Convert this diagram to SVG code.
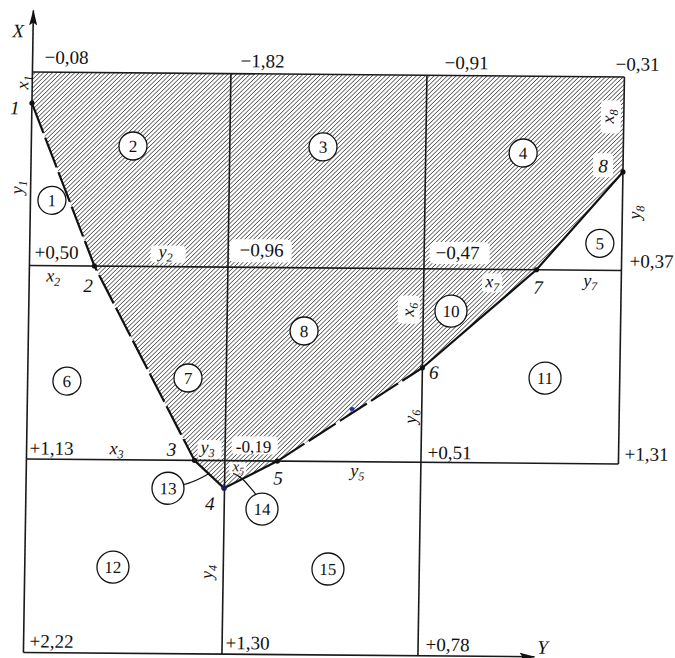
<svg xmlns="http://www.w3.org/2000/svg" width="675" height="658" viewBox="0 0 675 658">
<style>
.g{stroke:#1a1a1a;stroke-width:1.6;fill:none}
.b{stroke:#111;stroke-width:2.2;fill:none}
.d{stroke-dasharray:32 5}
text{font-family:"Liberation Serif","DejaVu Serif","Noto Serif",serif;fill:#111}
.n{font-size:19px;text-anchor:middle}
.i{font-style:italic;font-size:19px;text-anchor:middle}
.v{font-style:italic;font-size:18px;text-anchor:middle}
.s{font-size:12px}
.c circle{fill:#fff;stroke:#111;stroke-width:1.3}
.c text{font-size:17px;text-anchor:middle}
.w{fill:#fff}
.p{fill:#111}
.l{stroke:#111;stroke-width:1.2;fill:none}
</style>
<defs>
<pattern id="h" patternUnits="userSpaceOnUse" width="3.1" height="10" patternTransform="rotate(45)">
<line x1="0" y1="0" x2="0" y2="10" stroke="#1a1a1a" stroke-width="1.2"/>
</pattern>
<marker id="ar" viewBox="0 0 16 8" refX="15" refY="4" markerWidth="16" markerHeight="8" markerUnits="userSpaceOnUse" orient="auto">
<path d="M0,0 L16,4 L0,8 L3,4 z" fill="#111"/>
</marker>
</defs>
<rect width="675" height="658" fill="#fff"/>
<g transform="matrix(1 0.0085 -0.0155 1 5.58 -2.8)">
<g id="feasible-region">
<polygon points="28,74.5 620,74.5 620,169.5 535,268 422.5,367 279,461.5 226,489 196,461.5 93,268 28,105.7" fill="url(#h)"/>
<rect class="w" x="149" y="247" width="35" height="17" rx="4"/>
<rect class="w" x="228" y="240" width="62" height="23" rx="5"/>
<rect class="w" x="428" y="241" width="60" height="22" rx="5"/>
<rect class="w" x="397" y="295" width="22" height="28" rx="4"/>
<rect class="w" x="597" y="98" width="20" height="33" rx="4"/>
<rect class="w" x="590" y="151" width="20" height="24" rx="4"/>
<rect class="w" x="233" y="437" width="46" height="18" rx="4"/>
<rect class="w" x="199" y="441" width="24" height="19" rx="4"/>
<rect class="w" x="481" y="272" width="20" height="19" rx="4"/>
<rect class="w" x="231" y="463" width="17" height="12" rx="3"/>
</g>
<g id="grid">
<line class="g" x1="28" y1="74.5" x2="620" y2="74.5"/>
<line class="g" x1="28" y1="268" x2="620" y2="268"/>
<line class="g" x1="28" y1="461.5" x2="620" y2="461.5"/>
<line class="g" x1="226.5" y1="74.5" x2="226.5" y2="655"/>
<line class="g" x1="422.5" y1="74.5" x2="422.5" y2="655"/>
<line class="g" x1="620" y1="74.5" x2="620" y2="461.5"/>
</g>
<g id="axes">
<line class="g" x1="28" y1="655" x2="28" y2="13" marker-end="url(#ar)"/>
<line class="g" x1="28" y1="655" x2="539" y2="655" marker-end="url(#ar)"/>
<text class="i" x="13" y="40">X</text>
<text class="i" x="547" y="652">Y</text>
</g>
<g id="connectors">
<path class="b d" d="M28,105.7 L93,268 L196,461.5"/>
<path class="b" d="M196,461.5 L226,489 L279,461.5"/>
<path class="b d" d="M279,461.5 L422.5,367"/>
<path class="b" d="M422.5,367 L535,268 L620,169.5"/>
<path class="l" d="M185,486 Q197,483 210,475"/>
<path class="l" d="M235,474 C245,478 250,486 258,495"/>
<ellipse cx="352.8" cy="408.8" rx="2.6" ry="2" fill="#2233aa"/>
</g>
<g id="vertices">
<circle class="p" cx="28" cy="105.7" r="2.6"/>
<circle class="p" cx="93" cy="268" r="2.6"/>
<circle class="p" cx="196" cy="461.5" r="2.6"/>
<circle cx="226" cy="489" r="2.8" fill="#1b1f5a"/>
<circle class="p" cx="279" cy="461.5" r="2.6"/>
<circle class="p" cx="422.5" cy="367" r="2.6"/>
<circle class="p" cx="535" cy="268" r="2.6"/>
<circle class="p" cx="620" cy="169.5" r="2.6"/>
<text class="i" x="11" y="117">1</text>
<text class="i" x="87" y="294">2</text>
<text class="i" x="173" y="457">3</text>
<text class="i" x="212" y="511">4</text>
<text class="i" x="280" y="485">5</text>
<text class="i" x="434" y="378">6</text>
<text class="i" x="537" y="292">7</text>
<text class="i" x="600" y="170">8</text>
</g>
<g id="values">
<text class="n" x="62" y="66">−0,08</text>
<text class="n" x="258" y="68">−1,82</text>
<text class="n" x="462" y="68">−0,91</text>
<text class="n" x="633" y="68">−0,31</text>
<text class="n" x="55" y="261">+0,50</text>
<text class="n" x="260" y="257">−0,96</text>
<text class="n" x="456" y="258">−0,47</text>
<text class="n" x="650" y="265">+0,37</text>
<text class="n" x="53" y="457">+1,13</text>
<text class="n" x="255" y="453" style="font-size:17px">-0,19</text>
<text class="n" x="451" y="458">+0,51</text>
<text class="n" x="648" y="458">+1,31</text>
<text class="n" x="56" y="650">+2,22</text>
<text class="n" x="252" y="650">+1,30</text>
<text class="n" x="452" y="650">+0,78</text>
</g>
<g id="variables">
<text class="v" transform="translate(20,85) rotate(-90)" y="4">x<tspan class="s" dy="4">1</tspan></text>
<text class="v" transform="translate(17,190) rotate(-90)" y="3">y<tspan class="s" dy="4">1</tspan></text>
<text class="v" x="164" y="259">y<tspan class="s" dy="4">2</tspan></text>
<text class="v" x="52" y="284">x<tspan class="s" dy="4">2</tspan></text>
<text class="v" x="118" y="456">x<tspan class="s" dy="4">3</tspan></text>
<text class="v" x="209" y="454">y<tspan class="s" dy="4">3</tspan></text>
<text class="v" x="240" y="472" style="font-size:15px">x<tspan style="font-size:10px" dy="3">5</tspan></text>
<text class="v" x="359" y="476">y<tspan class="s" dy="4">5</tspan></text>
<text class="v" transform="translate(409,309) rotate(-90)" y="4">x<tspan class="s" dy="4">6</tspan></text>
<text class="v" transform="translate(414,416) rotate(-90)" y="3">y<tspan class="s" dy="4">6</tspan></text>
<text class="v" x="491" y="286">x<tspan class="s" dy="4">7</tspan></text>
<text class="v" x="589" y="284">y<tspan class="s" dy="4">7</tspan></text>
<text class="v" transform="translate(606,114) rotate(-90)" y="4">x<tspan class="s" dy="4">8</tspan></text>
<text class="v" transform="translate(635,210) rotate(-90)" y="3">y<tspan class="s" dy="4">8</tspan></text>
<text class="v" transform="translate(213,573) rotate(-90)" y="3">y<tspan class="s" dy="4">4</tspan></text>
</g>
<g class="c">
<g id="r1"><circle cx="49.5" cy="202.7" r="14"/><text x="49.5" y="208.7">1</text></g>
<g id="r2"><circle cx="129.7" cy="147.7" r="14"/><text x="129.7" y="153.7">2</text></g>
<g id="r3"><circle cx="319.7" cy="147" r="14"/><text x="319.7" y="153">3</text></g>
<g id="r4"><circle cx="519.9" cy="151.4" r="14"/><text x="519.9" y="157.4">4</text></g>
<g id="r5"><circle cx="598" cy="241" r="14"/><text x="598" y="247">5</text></g>
<g id="r6"><circle cx="67.3" cy="383.3" r="14"/><text x="67.3" y="389.3">6</text></g>
<g id="r7"><circle cx="188.3" cy="379.2" r="14"/><text x="188.3" y="385.2">7</text></g>
<g id="r8"><circle cx="303.6" cy="331.2" r="14"/><text x="303.6" y="337.2">8</text></g>
<g id="r10"><circle cx="450.2" cy="310" r="16"/><text x="450.2" y="316">10</text></g>
<g id="r11"><circle cx="545.3" cy="376.2" r="16"/><text x="545.3" y="382.2">11</text></g>
<g id="r12"><circle cx="116.2" cy="568.9" r="16"/><text x="116.2" y="574.9">12</text></g>
<g id="r13"><circle cx="170" cy="489.6" r="16"/><text x="170" y="495.6">13</text></g>
<g id="r14"><circle cx="264.3" cy="509.6" r="16"/><text x="264.3" y="515.6">14</text></g>
<g id="r15"><circle cx="331.2" cy="569" r="16"/><text x="331.2" y="575">15</text></g>
</g>
</g>
</svg>
